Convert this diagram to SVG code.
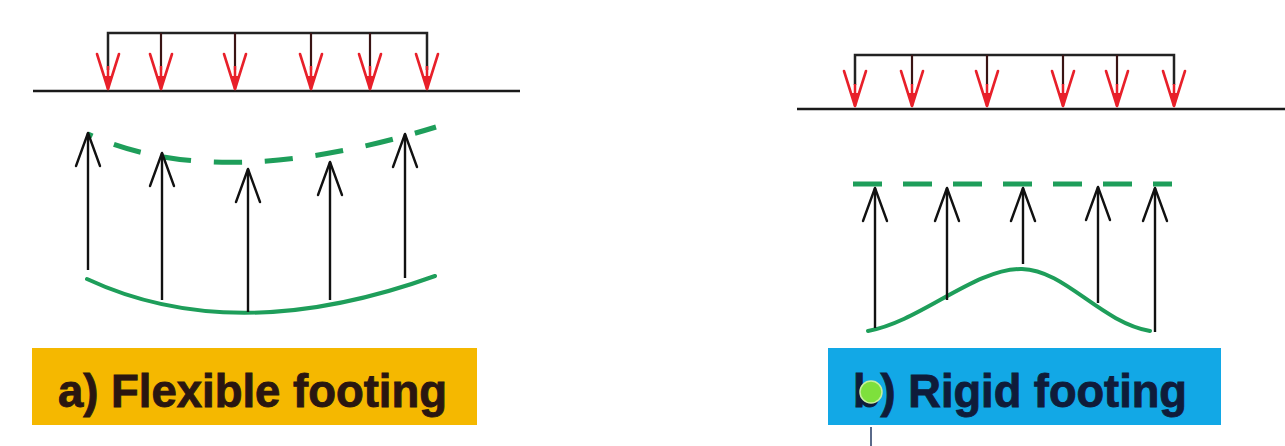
<svg xmlns="http://www.w3.org/2000/svg" width="1285" height="446" viewBox="0 0 1285 446">
<style>
.gnd{stroke:#1a1a1a;stroke-width:2.5;fill:none}
.beam{stroke:#222;stroke-width:2.5;fill:none}
.shaft{stroke:#3a1414;stroke-width:2.2;fill:none}
.rshaft{stroke:#e8202a;stroke-width:2.5;fill:none}
.up{stroke:#111;stroke-width:2.4;fill:none}
.solid{stroke:#1e9e5a;stroke-width:4;fill:none;stroke-linecap:round}
.dash{stroke:#1e9e5a;stroke-width:5;fill:none}
.lbl{font-family:"Liberation Sans",Arial,sans-serif;font-weight:bold;font-size:46px;stroke-width:0.9}
</style>
<defs>
<marker id="ah-up" markerUnits="userSpaceOnUse" viewBox="-40 -16 46 32" markerWidth="46" markerHeight="32" refX="0" refY="0" orient="auto">
<path d="M-33,-12 L0,0 L-33,12" fill="none" stroke="#111" stroke-width="2.4" stroke-linejoin="round" stroke-linecap="round"/>
</marker>
<marker id="ah-red" markerUnits="userSpaceOnUse" viewBox="-40 -16 46 32" markerWidth="46" markerHeight="32" refX="0" refY="0" orient="auto">
<path d="M-35,-11 L0,0 L-35,11" fill="none" stroke="#e8202a" stroke-width="2.6" stroke-linejoin="round" stroke-linecap="round"/>
<path d="M-13,-4 L0,0 L-13,4 Z" fill="#e8202a"/>
</marker>
</defs>
<rect width="1285" height="446" fill="#ffffff"/>

<g id="flexible-footing">
<line class="gnd" x1="33" y1="91" x2="520" y2="91"/>
<polyline class="beam" points="108,70 108,33 427,33 427,70"/>
<g id="flex-loads">
<line class="shaft" x1="161" y1="33" x2="161" y2="70"/>
<line class="shaft" x1="235" y1="33" x2="235" y2="70"/>
<line class="shaft" x1="311" y1="33" x2="311" y2="70"/>
<line class="shaft" x1="370" y1="33" x2="370" y2="70"/>
<line class="rshaft" x1="108" y1="66" x2="108" y2="89" marker-end="url(#ah-red)"/>
<line class="rshaft" x1="161" y1="66" x2="161" y2="89" marker-end="url(#ah-red)"/>
<line class="rshaft" x1="235" y1="66" x2="235" y2="89" marker-end="url(#ah-red)"/>
<line class="rshaft" x1="311" y1="66" x2="311" y2="89" marker-end="url(#ah-red)"/>
<line class="rshaft" x1="370" y1="66" x2="370" y2="89" marker-end="url(#ah-red)"/>
<line class="rshaft" x1="427" y1="66" x2="427" y2="89" marker-end="url(#ah-red)"/>
</g>
<path class="dash" d="M88,134 Q218,194 436,127" stroke-dasharray="28 23" stroke-dashoffset="23"/>
<path class="solid" d="M87,279 Q235,348 435,276"/>
<g id="flex-reactions">
<line class="up" x1="88" y1="270" x2="88" y2="133" marker-end="url(#ah-up)"/>
<line class="up" x1="162" y1="300" x2="162" y2="153" marker-end="url(#ah-up)"/>
<line class="up" x1="248" y1="312" x2="248" y2="169" marker-end="url(#ah-up)"/>
<line class="up" x1="330" y1="300" x2="330" y2="162" marker-end="url(#ah-up)"/>
<line class="up" x1="405" y1="278" x2="405" y2="134" marker-end="url(#ah-up)"/>
</g>
</g>

<g id="label-a">
<rect x="32" y="348" width="445" height="77" fill="#f5b800"/>
<text class="lbl" x="58" y="407" fill="#2a1610" stroke="#2a1610" textLength="389" lengthAdjust="spacingAndGlyphs">a) Flexible footing</text>
</g>

<g id="rigid-footing">
<line class="gnd" x1="797" y1="109" x2="1285" y2="109"/>
<polyline class="beam" points="855,85 855,55 1174,55 1174,85"/>
<g id="rigid-loads">
<line class="shaft" x1="912" y1="55" x2="912" y2="85"/>
<line class="shaft" x1="987" y1="55" x2="987" y2="85"/>
<line class="shaft" x1="1063" y1="55" x2="1063" y2="85"/>
<line class="shaft" x1="1117" y1="55" x2="1117" y2="85"/>
<line class="rshaft" x1="855" y1="84" x2="855" y2="106" marker-end="url(#ah-red)"/>
<line class="rshaft" x1="912" y1="84" x2="912" y2="106" marker-end="url(#ah-red)"/>
<line class="rshaft" x1="987" y1="84" x2="987" y2="106" marker-end="url(#ah-red)"/>
<line class="rshaft" x1="1063" y1="84" x2="1063" y2="106" marker-end="url(#ah-red)"/>
<line class="rshaft" x1="1117" y1="84" x2="1117" y2="106" marker-end="url(#ah-red)"/>
<line class="rshaft" x1="1174" y1="84" x2="1174" y2="106" marker-end="url(#ah-red)"/>
</g>
<line class="dash" x1="853" y1="184" x2="1172" y2="184" stroke-dasharray="29 21"/>
<path class="solid" d="M868,331 C920,322 975,268 1022,269 C1065,270 1100,322 1150,331"/>
<g id="rigid-reactions">
<line class="up" x1="875" y1="328" x2="875" y2="188" marker-end="url(#ah-up)"/>
<line class="up" x1="947" y1="300" x2="947" y2="188" marker-end="url(#ah-up)"/>
<line class="up" x1="1023" y1="264" x2="1023" y2="188" marker-end="url(#ah-up)"/>
<line class="up" x1="1098" y1="303" x2="1098" y2="187" marker-end="url(#ah-up)"/>
<line class="up" x1="1155" y1="332" x2="1155" y2="188" marker-end="url(#ah-up)"/>
</g>
</g>

<g id="label-b">
<rect x="828" y="348" width="393" height="77" fill="#12a8e6"/>
<text class="lbl" x="853" y="407" fill="#0f1c3a" stroke="#0f1c3a" textLength="334" lengthAdjust="spacingAndGlyphs">b) Rigid footing</text>
<line x1="871" y1="427" x2="871" y2="446" stroke="#5a6a8a" stroke-width="2"/>
<circle cx="871" cy="392" r="11" fill="#7ee03c" stroke="#c8f0a0" stroke-width="1.5"/>
</g>
</svg>
